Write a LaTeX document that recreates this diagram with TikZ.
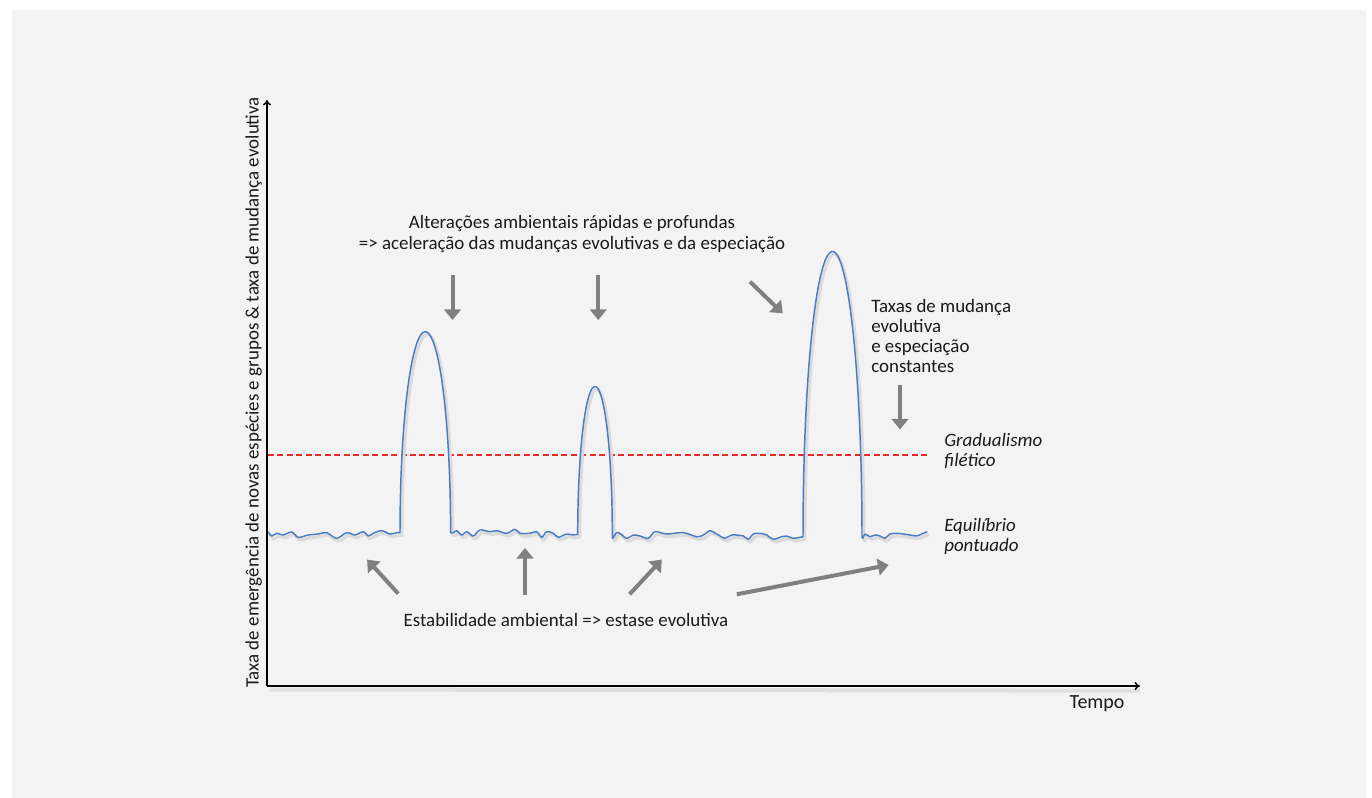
\documentclass[tikz,border=0pt]{standalone}
\usepackage{fontspec}
\setmainfont{Carlito}
\usetikzlibrary{arrows.meta}

\definecolor{panel}{HTML}{F3F3F3}
\definecolor{curveblue}{HTML}{4A7CC4}
\definecolor{gradred}{HTML}{E8282B}
\definecolor{pointergray}{HTML}{808080}
\definecolor{ink}{HTML}{1A1A1A}

% the rate curve: wavy stasis stretches broken by three sharp bursts
\newcommand\ratepath{%
  plot[smooth, tension=0.55] coordinates {(268.3,531.7) (271.7,536) (276.7,533.3) (283.3,535) (291.7,532) (298.3,537.3) (308.3,535) (318.3,534) (326.7,532.7) (336.7,538.3) (346.7,532.7) (355,535) (363.3,531.7) (368.3,536) (373.3,533.3) (381.7,530.7) (390,534) (396.7,532.7) (400,532.7)}
  -- plot[domain=180:0, samples=60] ({425.3+25.3*cos(\x)},{532.7-201*sin(\x)})
  -- plot[smooth, tension=0.55] coordinates {(450.6,532.7) (453.3,532.7) (456.7,530.7) (461.7,535) (466.7,531.7) (473.3,536) (480,530) (490,531.7) (496.7,530.7) (506.7,533.3) (515,529.3) (520,533.3) (530,533.3) (536.7,531.7) (541.7,537.3) (546.7,531.7) (553.3,533.3) (558.3,537.3) (566.7,534) (572.7,535) (577.7,534.3)}
  -- plot[domain=180:0, samples=50] ({595+17.3*cos(\x)},{534.3-147.8*sin(\x)})
  -- plot[smooth, tension=0.55] coordinates {(612.3,534.3) (612.7,538.3) (616.7,532.7) (620.7,534) (626.7,538.3) (633.3,535) (640,536) (648.3,538.3) (655,531.7) (666.7,534) (683.3,532.7) (696.7,536.7) (703.3,535) (710,530.7) (716.7,534) (725,538.3) (731.7,535) (743.3,536) (748.3,539.3) (753.3,534) (760,533.3) (766.7,535) (773.3,539.3) (781.7,536.7) (786.7,536) (793.3,538.3) (803,536.7)}
  -- plot[domain=180:0, samples=70] ({832.5+29.5*cos(\x)},{536.7-285.2*sin(\x)})
  -- plot[smooth, tension=0.55] coordinates {(862,536.7) (862.7,538.3) (865,534) (870,536.7) (875,535) (880,536) (885,538.3) (890,534) (896.7,533.3) (903.3,534) (910,535) (916.7,536) (921.7,534) (927.3,531.7)}%
}

\begin{document}
\begin{tikzpicture}[x=0.75pt, y=-0.75pt,
  lbl/.style={inner sep=0pt, text=ink, font=\fontsize{14.2}{15}\selectfont},
  notelbl/.style={lbl, font=\fontsize{14.2}{15}\selectfont\itshape},
  axisline/.style={line width=1.1pt, black, -{To[length=4pt, width=6pt]}},
  axisshadow/.style={line width=3pt, black!12},
  pointer/.style={line width=3pt, pointergray, -{Triangle[length=8pt, width=12.5pt]}},
  rateline/.style={line width=1.1pt, curveblue, line join=round},
  rateshadow/.style={line width=2.4pt, black!14, line join=round},
  gradline/.style={line width=1.1pt, gradred, dash pattern=on 4.5pt off 2.6pt}]

% page and panel
\fill[white] (0,0) rectangle (1372,798);
\fill[panel] (12,10) rectangle (1366,798);
\useasboundingbox (0,0) rectangle (1372,798);

% axes
\coordinate (origin) at (267,686);
\coordinate (ytop) at (267,100);
\coordinate (xend) at (1140,686);
\draw[axisshadow] ([xshift=2pt]origin) ++(0,3.5) -- ([yshift=-3.5]xend);
\draw[axisline] (origin) -- (ytop);
\draw[axisline] (origin) -- (xend);

\node[lbl, rotate=90, anchor=base] (ylabel) at (258.5,392.5)
  {Taxa de emergência de novas espécies e grupos \& taxa de mudança evolutiva};
\node[lbl, anchor=base, font=\fontsize{15}{16}\selectfont] (tempo) at (1097,708) {Tempo};

% phyletic gradualism reference level
\coordinate (gradstart) at (268,455);
\coordinate (gradend) at (929,455);
\draw[gradline] (gradstart) -- (gradend);

% punctuated equilibrium curve with its soft shadow
\draw[rateshadow, xshift=1.4pt, yshift=-2pt] \ratepath;
\draw[rateline] \ratepath;

% annotations (multi-line nodes sit on the baseline of their last line)
\node[lbl, align=center, anchor=base] (burst) at (572,250)
  {Alterações ambientais rápidas e profundas\\[1.2pt]=> aceleração das mudanças evolutivas e da especiação};
\node[lbl, align=left, anchor=base west] (constant) at (871,373)
  {Taxas de mudança\\evolutiva\\e especiação\\constantes};
\node[notelbl, align=left, anchor=base west] (gradual) at (944,467)
  {Gradualismo\\filético};
\node[notelbl, align=left, anchor=base west] (punct) at (944,552)
  {Equilíbrio\\pontuado};
\node[lbl, anchor=base] (stasis) at (566,627)
  {Estabilidade ambiental => estase evolutiva};

% pointers from the burst note
\coordinate (b1s) at (452.5,275); \coordinate (b1e) at (452.5,320);
\coordinate (b2s) at (598.3,275); \coordinate (b2e) at (598.3,320);
\coordinate (b3s) at (750,281.7); \coordinate (b3e) at (782.7,313.3);
\draw[pointer] (b1s) -- (b1e);
\draw[pointer] (b2s) -- (b2e);
\draw[pointer] (b3s) -- (b3e);

% pointer from the constant-rate note
\coordinate (c1s) at (900,385); \coordinate (c1e) at (900,429.5);
\draw[pointer] (c1s) -- (c1e);

% pointers from the stasis note
\coordinate (s1s) at (398.2,593.6); \coordinate (s1e) at (367.1,559.6);
\coordinate (s2s) at (525,595.4); \coordinate (s2e) at (525,547.9);
\coordinate (s3s) at (629.6,594.3); \coordinate (s3e) at (661.8,559.6);
\coordinate (s4s) at (736.8,594.3); \coordinate (s4e) at (888.6,565);
\draw[pointer] (s1s) -- (s1e);
\draw[pointer] (s2s) -- (s2e);
\draw[pointer] (s3s) -- (s3e);
\draw[pointer] (s4s) -- (s4e);

\end{tikzpicture}
\end{document}
